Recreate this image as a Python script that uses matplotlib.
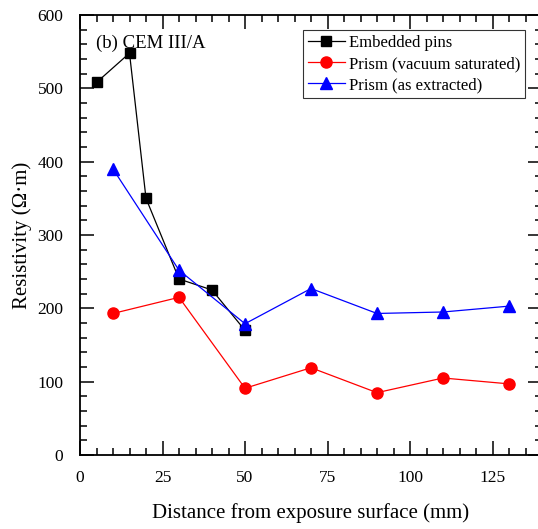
import matplotlib
matplotlib.use("Agg")
import matplotlib.pyplot as plt
from matplotlib.ticker import MultipleLocator

plt.rcParams['font.family'] = ['Liberation Serif', 'DejaVu Serif']
plt.rcParams['mathtext.fontset'] = 'stix'

pins_x = [5, 15, 20, 30, 40, 50]
pins_y = [508, 548, 350, 240, 225, 170]
vac_x = [10, 30, 50, 70, 90, 110, 130]
vac_y = [193, 215, 91, 119, 85, 105, 97]
ext_x = [10, 30, 50, 70, 90, 110, 130]
ext_y = [390, 252, 179, 227, 193, 195, 203]

fig = plt.figure(figsize=(5.38, 5.29), dpi=100)
ax = fig.add_axes([80/538, 74/529, 462/538, 440/529])

ax.plot(pins_x, pins_y, color='black', marker='s', markersize=7, lw=0.9, label='Embedded pins')
ax.plot(vac_x, vac_y, color='red', marker='o', markersize=8, lw=0.9, label='Prism (vacuum saturated)')
ax.plot(ext_x, ext_y, color='blue', marker='^', markersize=8, lw=0.9, label='Prism (as extracted)')

ax.set_xlim(0, 140)
ax.set_ylim(0, 600)
ax.xaxis.set_major_locator(MultipleLocator(25))
ax.xaxis.set_minor_locator(MultipleLocator(5))
ax.yaxis.set_major_locator(MultipleLocator(100))
ax.yaxis.set_minor_locator(MultipleLocator(20))
ax.tick_params(which='both', direction='in', top=True, right=True, labelsize=12.5, width=1.1)
ax.tick_params(which='major', length=10, pad=11)
ax.tick_params(which='minor', length=5)
ax.tick_params(axis='y', which='major', pad=12)
for s in ax.spines.values():
    s.set_linewidth(1.3)

ax.set_xlabel('Distance from exposure surface (mm)', fontsize=15, labelpad=12)
ax.set_ylabel('Resistivity (Ω·m)', fontsize=15, labelpad=4)

ax.text(4.8, 562, '(b) CEM III/A', fontsize=13.5, va='center', ha='left')

leg = ax.legend(loc='upper left', bbox_to_anchor=((303 - 80)/462, 1 - 15/440), fontsize=12,
                frameon=True, fancybox=False, edgecolor='black', borderpad=0.3,
                handlelength=2.2, handletextpad=0.25, labelspacing=0.3, borderaxespad=0)
leg.get_frame().set_linewidth(0.8)

fig.savefig('out.png', dpi=100)
